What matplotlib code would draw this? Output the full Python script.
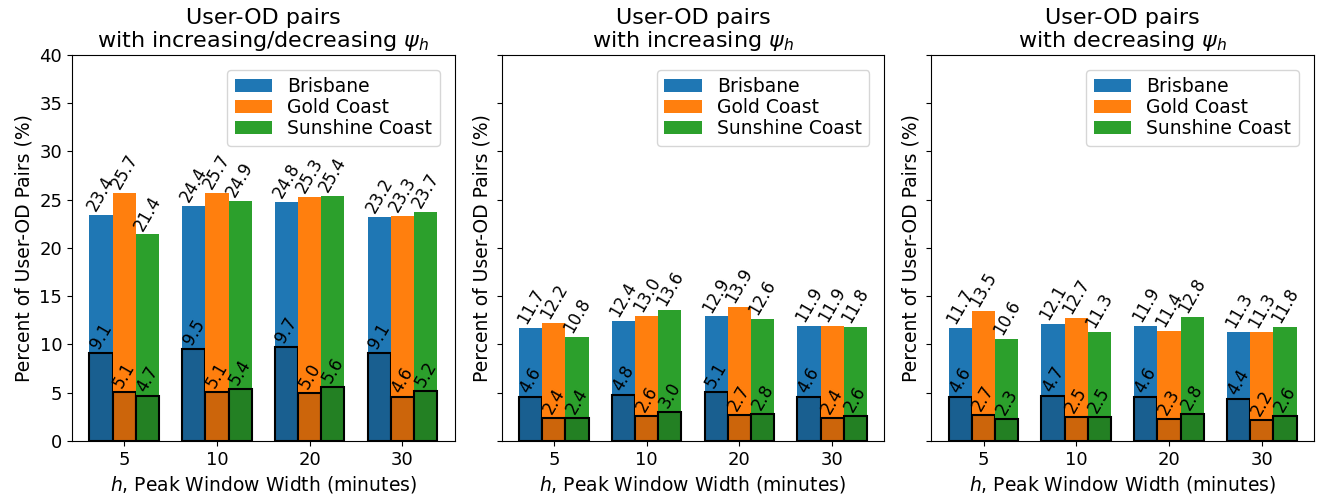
import matplotlib
matplotlib.use("Agg")
import matplotlib.pyplot as plt
import numpy as np

windows = ["5", "10", "20", "30"]
cities = ["Brisbane", "Gold Coast", "Sunshine Coast"]
colors = ["#1f77b4", "#ff7f0e", "#2ca02c"]
dark_colors = ["#195f90", "#cc650b", "#238023"]

titles = ["User-OD pairs\nwith increasing/decreasing $\\psi_h$",
          "User-OD pairs\nwith increasing $\\psi_h$",
          "User-OD pairs\nwith decreasing $\\psi_h$"]

# outer (total) values per panel: [city][window]
total_both = [[23.4, 24.4, 24.8, 23.2],
              [25.7, 25.7, 25.3, 23.3],
              [21.4, 24.9, 25.4, 23.7]]
inner_both = [[9.1, 9.5, 9.7, 9.1],
              [5.1, 5.1, 5.0, 4.6],
              [4.7, 5.4, 5.6, 5.2]]

total_inc = [[11.7, 12.4, 12.9, 11.9],
             [12.2, 13.0, 13.9, 11.9],
             [10.8, 13.6, 12.6, 11.8]]
inner_inc = [[4.6, 4.8, 5.1, 4.6],
             [2.4, 2.6, 2.7, 2.4],
             [2.4, 3.0, 2.8, 2.6]]

total_dec = [[11.7, 12.1, 11.9, 11.3],
             [13.5, 12.7, 11.4, 11.3],
             [10.6, 11.3, 12.8, 11.8]]
inner_dec = [[4.6, 4.7, 4.6, 4.4],
             [2.7, 2.5, 2.3, 2.2],
             [2.3, 2.5, 2.8, 2.6]]

panels = [(total_both, inner_both), (total_inc, inner_inc), (total_dec, inner_dec)]

fig, axes = plt.subplots(1, 3, figsize=(13.24, 5.03), dpi=100, sharey=True)
fig.subplots_adjust(left=0.0544, right=0.9924, top=0.8907, bottom=0.1233, wspace=0.123)

x = np.arange(len(windows))
w = 0.25
for ax, title, (tot, inn) in zip(axes, titles, panels):
    for i, city in enumerate(cities):
        pos = x + (i - 1) * w
        ax.bar(pos, tot[i], w, color=colors[i], label=city)
        ax.bar(pos, inn[i], w, color=dark_colors[i], edgecolor="black", linewidth=1.5)
        for p, v in zip(pos, tot[i]):
            ax.text(p, v + 0.1, f"{v:.1f}", rotation=60, ha="center", va="bottom", fontsize=12)
        for p, v in zip(pos, inn[i]):
            ax.text(p, v + 0.1, f"{v:.1f}", rotation=60, ha="center", va="bottom", fontsize=12)
    ax.set_title(title, fontsize=16, linespacing=1.05)
    ax.set_xticks(x)
    ax.set_xticklabels(windows, fontsize=13)
    ax.set_xlabel("$h$, Peak Window Width (minutes)", fontsize=13.5)
    ax.set_ylabel("Percent of User-OD Pairs (%)", fontsize=13.5)
    ax.set_ylim(0, 40)
    ax.tick_params(axis="y", labelsize=13)
    ax.legend(loc="upper right", fontsize=13.5, labelspacing=0.1, borderaxespad=0.8)

plt.savefig("out.png", dpi=100)
